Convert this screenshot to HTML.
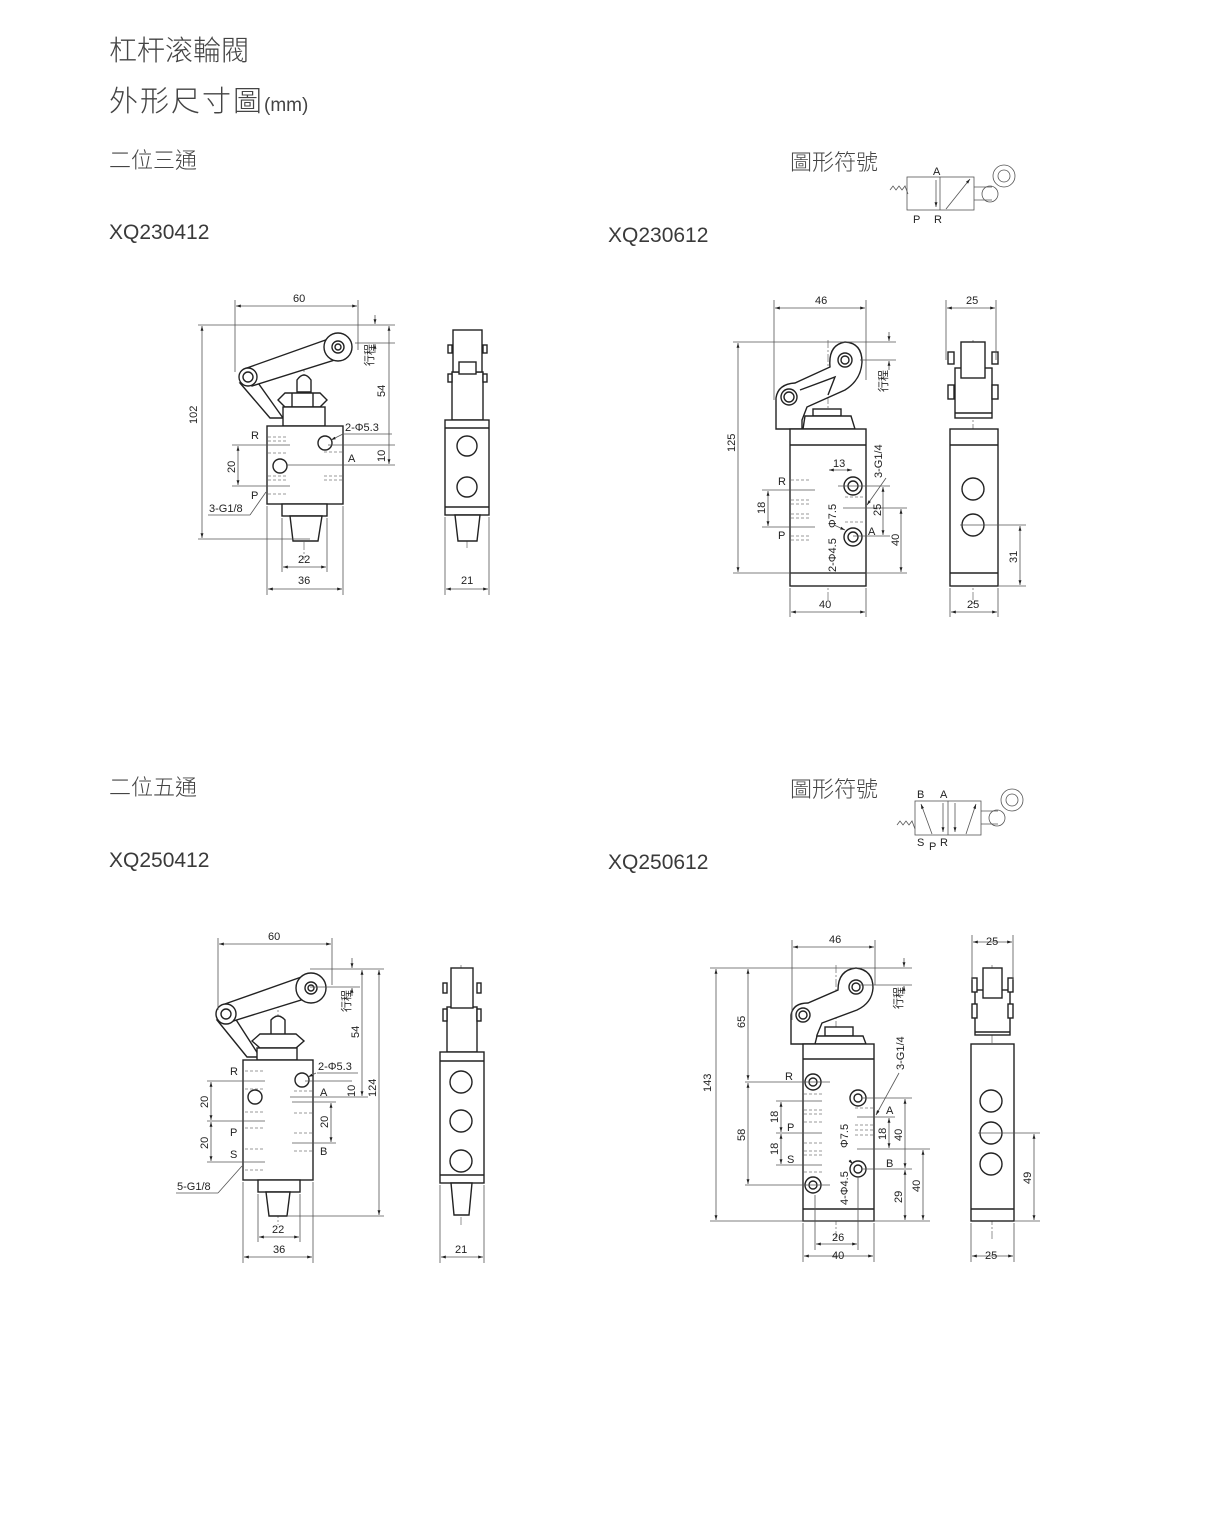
<!DOCTYPE html>
<html><head><meta charset="utf-8"><style>
html,body{margin:0;padding:0;background:#fff;}
svg{display:block;}
.t{font-family:"Liberation Sans","Noto Sans CJK TC",sans-serif;fill:#3a3a3a;}
.k{font-family:"Noto Sans CJK TC",sans-serif;fill:#444;font-weight:300;}
.o{fill:none;stroke:#222;stroke-width:1.4;}
.ow{fill:#fff;stroke:#222;stroke-width:1.4;}
.d{fill:none;stroke:#555;stroke-width:0.8;}
.c{fill:none;stroke:#666;stroke-width:0.7;stroke-dasharray:8 2 2 2;}
.h{fill:none;stroke:#777;stroke-width:0.7;stroke-dasharray:3 2;}
.n{font-family:"Liberation Sans",sans-serif;font-size:11px;fill:#222;}
</style></head><body>
<svg width="1211" height="1535" viewBox="0 0 1211 1535" xmlns="http://www.w3.org/2000/svg">
<defs>
<marker id="a" viewBox="0 0 10 10" refX="10" refY="5" markerWidth="6" markerHeight="6" orient="auto-start-reverse"><path d="M0,2 L10,5 L0,8z" fill="#222"/></marker>
</defs>

<!-- Titles -->
<text class="k" x="109" y="60" font-size="28">杠杆滚輪閥</text>
<text class="k" x="109" y="111" font-size="29" letter-spacing="2">外形尺寸圖<tspan font-size="19" letter-spacing="0" font-family="'Liberation Sans',sans-serif">(mm)</tspan></text>
<text class="k" x="109" y="168" font-size="22">二位三通</text>
<text class="t" x="109" y="239" font-size="21">XQ230412</text>
<text class="t" x="608" y="242" font-size="21">XQ230612</text>
<text class="k" x="790" y="170" font-size="22">圖形符號</text>
<text class="k" x="109" y="795" font-size="22">二位五通</text>
<text class="t" x="109" y="867" font-size="21">XQ250412</text>
<text class="t" x="608" y="869" font-size="21">XQ250612</text>
<text class="k" x="790" y="797" font-size="22">圖形符號</text>

<!-- Symbol 1 -->
<g>
<path class="d" d="M890,190 l3,-4 3,4 3,-4 3,4 3,-4 3,8"/>
<rect class="d" x="907" y="177" width="67" height="33"/>
<line class="d" x1="940" y1="177" x2="940" y2="210"/>
<line class="d" x1="936" y1="180" x2="936" y2="207" marker-end="url(#a)"/>
<line class="d" x1="946" y1="209" x2="970" y2="179" marker-end="url(#a)"/>
<line class="d" x1="974" y1="187" x2="992" y2="187"/><line class="d" x1="974" y1="200" x2="992" y2="200"/>
<circle class="d" cx="990" cy="194" r="8"/><circle class="d" cx="1004" cy="176" r="11"/><circle class="d" cx="1004" cy="176" r="6"/>
<text class="n" x="933" y="175" font-size="7">A</text><text class="n" x="913" y="223" font-size="7">P</text><text class="n" x="934" y="223" font-size="7">R</text>
</g>
<!-- Symbol 2 -->
<g>
<path class="d" d="M897,825 l3,-4 3,4 3,-4 3,4 3,-4 3,8"/>
<rect class="d" x="915" y="801" width="66" height="34"/>
<line class="d" x1="948" y1="801" x2="948" y2="835"/>
<line class="d" x1="932" y1="834" x2="921" y2="804" marker-end="url(#a)"/>
<line class="d" x1="943" y1="803" x2="943" y2="832" marker-end="url(#a)"/>
<line class="d" x1="955" y1="803" x2="955" y2="832" marker-end="url(#a)"/>
<line class="d" x1="966" y1="834" x2="976" y2="804" marker-end="url(#a)"/>
<line class="d" x1="981" y1="811" x2="998" y2="811"/><line class="d" x1="981" y1="824" x2="998" y2="824"/>
<circle class="d" cx="997" cy="818" r="8"/><circle class="d" cx="1012" cy="800" r="11"/><circle class="d" cx="1012" cy="800" r="6"/>
<text class="n" x="917" y="798" font-size="7">B</text><text class="n" x="940" y="798" font-size="7">A</text>
<text class="n" x="917" y="846" font-size="7">S</text><text class="n" x="929" y="850" font-size="7">P</text><text class="n" x="940" y="846" font-size="7">R</text>
</g>

<!-- ===== Drawing 1: XQ230412 ===== -->
<g>
<line class="c" x1="304" y1="360" x2="304" y2="560"/>
<path class="ow" d="M240,383 L270,418 L283,418 L256,380 Z"/>
<path class="ow" d="M244,369 L334,337 L341,358 L252,386 Z"/>
<circle class="ow" cx="338" cy="347" r="14"/><circle class="o" cx="338" cy="347" r="6"/><circle class="o" cx="338" cy="347" r="3"/>
<circle class="ow" cx="248" cy="377" r="9"/><circle class="o" cx="248" cy="377" r="5"/>
<path class="ow" d="M297,392 L297,380 Q304,370 311,380 L311,392 Z"/>
<path class="ow" d="M278,400 L285,393 L320,393 L327,400 L320,407 L285,407 Z"/>
<line class="o" x1="292" y1="393" x2="292" y2="407"/><line class="o" x1="313" y1="393" x2="313" y2="407"/>
<rect class="ow" x="283" y="407" width="42" height="19"/>
<rect class="ow" x="267" y="426" width="76" height="78"/>
<rect class="ow" x="282" y="504" width="45" height="12"/>
<path class="ow" d="M290,516 L322,516 L318,541 L293,541 Z"/>
<circle class="ow" cx="325" cy="443" r="7"/><circle class="ow" cx="280" cy="466" r="7"/>
<path class="h" d="M268,437h18M268,441h18M268,453h18M268,476h18M268,480h18M268,494h18M324,452h18M324,476h18M324,480h18"/>
<line class="d" x1="235" y1="300" x2="235" y2="372"/><line class="d" x1="358" y1="300" x2="358" y2="350"/>
<line class="d" x1="236" y1="306" x2="357" y2="306" marker-start="url(#a)" marker-end="url(#a)"/>
<text class="n" x="293" y="302">60</text>
<line class="d" x1="198" y1="325" x2="395" y2="325"/><line class="d" x1="198" y1="539" x2="310" y2="539"/>
<line class="d" x1="202" y1="326" x2="202" y2="538" marker-start="url(#a)" marker-end="url(#a)"/>
<text class="n" transform="translate(197,424) rotate(-90)">102</text>
<line class="d" x1="355" y1="343" x2="395" y2="343"/>
<line class="d" x1="375" y1="315" x2="375" y2="324" marker-end="url(#a)"/><line class="d" x1="375" y1="353" x2="375" y2="344" marker-end="url(#a)"/>
<text class="n" transform="translate(373,366) rotate(-90)" font-size="10" font-family="'Noto Sans CJK TC',sans-serif">行程</text>
<line class="d" x1="389" y1="326" x2="389" y2="464" marker-start="url(#a)" marker-end="url(#a)"/>
<text class="n" transform="translate(385,397) rotate(-90)">54</text>
<line class="d" x1="328" y1="445" x2="395" y2="445"/><line class="d" x1="286" y1="465" x2="395" y2="465"/>
<text class="n" transform="translate(385,462) rotate(-90)">10</text>
<text class="n" x="345" y="431">2-Φ5.3</text><line class="d" x1="344" y1="434" x2="392" y2="434"/>
<line class="d" x1="343" y1="434" x2="331" y2="440" marker-end="url(#a)"/>
<text class="n" x="348" y="462">A</text><text class="n" x="251" y="439">R</text><text class="n" x="251" y="499">P</text>
<line class="d" x1="232" y1="445" x2="290" y2="445"/><line class="d" x1="232" y1="486" x2="290" y2="486"/>
<line class="d" x1="238" y1="446" x2="238" y2="485" marker-start="url(#a)" marker-end="url(#a)"/>
<text class="n" transform="translate(235,473) rotate(-90)">20</text>
<text class="n" x="209" y="512">3-G1/8</text><line class="d" x1="208" y1="515" x2="250" y2="515"/><line class="d" x1="250" y1="515" x2="266" y2="492"/>
<line class="d" x1="267" y1="506" x2="267" y2="595"/><line class="d" x1="343" y1="506" x2="343" y2="595"/>
<line class="d" x1="282" y1="518" x2="282" y2="572"/><line class="d" x1="327" y1="518" x2="327" y2="572"/>
<line class="d" x1="283" y1="567" x2="326" y2="567" marker-start="url(#a)" marker-end="url(#a)"/><text class="n" x="298" y="563">22</text>
<line class="d" x1="268" y1="589" x2="342" y2="589" marker-start="url(#a)" marker-end="url(#a)"/><text class="n" x="298" y="584">36</text>
<line class="c" x1="467" y1="330" x2="467" y2="550"/>
<rect class="ow" x="452" y="372" width="31" height="48"/>
<rect class="ow" x="453" y="330" width="29" height="42"/>
<rect class="ow" x="459" y="362" width="17" height="12"/>
<rect class="ow" x="448" y="345" width="4" height="8"/><rect class="ow" x="483" y="345" width="4" height="8"/>
<rect class="ow" x="448" y="374" width="4" height="8"/><rect class="ow" x="483" y="374" width="4" height="8"/>
<rect class="ow" x="445" y="420" width="44" height="95"/><line class="o" x1="445" y1="428" x2="489" y2="428"/><line class="o" x1="445" y1="507" x2="489" y2="507"/>
<circle class="ow" cx="467" cy="446" r="10"/><circle class="ow" cx="467" cy="487" r="10"/>
<path class="ow" d="M455,515 L480,515 L477,541 L458,541 Z"/>
<line class="d" x1="445" y1="517" x2="445" y2="595"/><line class="d" x1="489" y1="517" x2="489" y2="595"/>
<line class="d" x1="446" y1="589" x2="488" y2="589" marker-start="url(#a)" marker-end="url(#a)"/><text class="n" x="461" y="584">21</text>
</g>

<!-- ===== Drawing 2: XQ230612 ===== -->
<g>
<line class="c" x1="828" y1="340" x2="828" y2="600"/>
<path class="ow" d="M776,429 L776,398 Q778,384 795,383 L830,367 Q828,345 845,342 Q862,343 862,362 Q861,380 845,390 L807,407 L802,420 L802,429 Z"/>
<path class="o" d="M800,390 L835,377 L828,395"/>
<circle class="o" cx="845" cy="360" r="7"/><circle class="o" cx="845" cy="360" r="4"/>
<circle class="o" cx="789" cy="397" r="8"/><circle class="o" cx="789" cy="397" r="5"/>
<rect class="ow" x="813" y="409" width="28" height="7"/>
<path class="ow" d="M803,429 L805,416 L851,416 L855,429 Z"/>
<rect class="ow" x="790" y="429" width="76" height="157"/>
<line class="o" x1="790" y1="445" x2="866" y2="445"/><line class="o" x1="790" y1="573" x2="866" y2="573"/>
<circle class="ow" cx="853" cy="486" r="9"/><circle class="o" cx="853" cy="486" r="5"/>
<circle class="ow" cx="853" cy="537" r="9"/><circle class="o" cx="853" cy="537" r="5"/>
<path class="h" d="M791,480h18M791,500h18M791,504h18M791,514h18M791,518h18M791,536h18M791,540h18M845,497h18M845,522h18"/>
<line class="d" x1="774" y1="300" x2="774" y2="400"/><line class="d" x1="866" y1="300" x2="866" y2="380"/>
<line class="d" x1="775" y1="308" x2="865" y2="308" marker-start="url(#a)" marker-end="url(#a)"/><text class="n" x="815" y="304">46</text>
<line class="d" x1="733" y1="342" x2="896" y2="342"/><line class="d" x1="733" y1="573" x2="907" y2="573"/>
<line class="d" x1="738" y1="343" x2="738" y2="572" marker-start="url(#a)" marker-end="url(#a)"/>
<text class="n" transform="translate(735,452) rotate(-90)">125</text>
<line class="d" x1="860" y1="360" x2="896" y2="360"/>
<line class="d" x1="889" y1="332" x2="889" y2="341" marker-end="url(#a)"/><line class="d" x1="889" y1="370" x2="889" y2="361" marker-end="url(#a)"/>
<text class="n" transform="translate(887,392) rotate(-90)" font-size="10" font-family="'Noto Sans CJK TC',sans-serif">行程</text>
<text class="n" transform="translate(882,478) rotate(-90)">3-G1/4</text>
<line class="d" x1="886" y1="478" x2="867" y2="505" marker-end="url(#a)"/>
<text class="n" x="833" y="467">13</text><line class="d" x1="829" y1="470" x2="852" y2="470" marker-start="url(#a)" marker-end="url(#a)"/>
<line class="d" x1="838" y1="486" x2="890" y2="486"/><line class="d" x1="843" y1="508" x2="907" y2="508"/><line class="d" x1="853" y1="536" x2="890" y2="536"/>
<line class="d" x1="883" y1="487" x2="883" y2="535" marker-start="url(#a)" marker-end="url(#a)"/><text class="n" transform="translate(881,516) rotate(-90)">25</text>
<line class="d" x1="901" y1="509" x2="901" y2="572" marker-start="url(#a)" marker-end="url(#a)"/><text class="n" transform="translate(899,546) rotate(-90)">40</text>
<text class="n" x="868" y="535">A</text>
<text class="n" transform="translate(836,528) rotate(-90)">Φ7.5</text>
<text class="n" transform="translate(836,572) rotate(-90)">2-Φ4.5</text>
<line class="d" x1="834" y1="525" x2="845" y2="530" marker-end="url(#a)"/>
<text class="n" x="778" y="485">R</text><text class="n" x="778" y="539">P</text>
<line class="d" x1="762" y1="490" x2="815" y2="490"/><line class="d" x1="762" y1="527" x2="815" y2="527"/>
<line class="d" x1="768" y1="491" x2="768" y2="526" marker-start="url(#a)" marker-end="url(#a)"/><text class="n" transform="translate(765,514) rotate(-90)">18</text>
<line class="d" x1="790" y1="588" x2="790" y2="617"/><line class="d" x1="866" y1="588" x2="866" y2="617"/>
<line class="d" x1="791" y1="612" x2="865" y2="612" marker-start="url(#a)" marker-end="url(#a)"/><text class="n" x="819" y="608">40</text>
<line class="c" x1="973" y1="340" x2="973" y2="605"/>
<rect class="ow" x="955" y="368" width="37" height="50"/>
<rect class="ow" x="961" y="342" width="24" height="36"/>
<rect class="ow" x="948" y="352" width="6" height="12"/><rect class="ow" x="992" y="352" width="6" height="12"/>
<rect class="ow" x="948" y="385" width="6" height="14"/><rect class="ow" x="992" y="385" width="6" height="14"/>
<line class="o" x1="955" y1="413" x2="992" y2="413"/>
<rect class="ow" x="950" y="429" width="48" height="157"/>
<line class="o" x1="950" y1="445" x2="998" y2="445"/><line class="o" x1="950" y1="573" x2="998" y2="573"/>
<circle class="ow" cx="973" cy="489" r="11"/><circle class="ow" cx="973" cy="525" r="11"/>
<line class="d" x1="946" y1="300" x2="946" y2="360"/><line class="d" x1="996" y1="300" x2="996" y2="360"/>
<line class="d" x1="947" y1="308" x2="995" y2="308" marker-start="url(#a)" marker-end="url(#a)"/><text class="n" x="966" y="304">25</text>
<line class="d" x1="950" y1="588" x2="950" y2="617"/><line class="d" x1="998" y1="588" x2="998" y2="617"/>
<line class="d" x1="951" y1="612" x2="997" y2="612" marker-start="url(#a)" marker-end="url(#a)"/><text class="n" x="967" y="608">25</text>
<line class="d" x1="960" y1="525" x2="1026" y2="525"/><line class="d" x1="998" y1="586" x2="1026" y2="586"/>
<line class="d" x1="1020" y1="526" x2="1020" y2="585" marker-start="url(#a)" marker-end="url(#a)"/><text class="n" transform="translate(1017,563) rotate(-90)">31</text>
</g>

<!-- ===== Drawing 3: XQ250412 ===== -->
<g>
<line class="c" x1="278" y1="1000" x2="278" y2="1225"/>
<path class="ow" d="M217,1020 L247,1057 L260,1057 L233,1015 Z"/>
<path class="ow" d="M222,1005 L307,975 L314,996 L230,1022 Z"/>
<circle class="ow" cx="311" cy="988" r="15"/><circle class="o" cx="311" cy="988" r="6"/><circle class="o" cx="311" cy="988" r="3"/>
<circle class="ow" cx="226" cy="1014" r="10"/><circle class="o" cx="226" cy="1014" r="5"/>
<path class="ow" d="M271,1035 L271,1020 Q278,1012 285,1020 L285,1035 Z"/>
<path class="ow" d="M252,1041 L260,1034 L296,1034 L304,1041 L296,1048 L260,1048 Z"/>
<rect class="ow" x="257" y="1048" width="40" height="12"/>
<rect class="ow" x="243" y="1060" width="70" height="120"/>
<rect class="ow" x="258" y="1180" width="42" height="12"/>
<path class="ow" d="M266,1192 L290,1192 L287,1216 L269,1216 Z"/>
<circle class="ow" cx="302" cy="1080" r="7"/><circle class="ow" cx="255" cy="1097" r="7"/>
<path class="h" d="M245,1071h18M245,1089h18M245,1112h18M245,1128h18M245,1149h18M245,1170h18M294,1091h18M294,1113h18M294,1133h18M294,1151h18"/>
<line class="d" x1="218" y1="938" x2="218" y2="1010"/><line class="d" x1="332" y1="938" x2="332" y2="985"/>
<line class="d" x1="219" y1="944" x2="331" y2="944" marker-start="url(#a)" marker-end="url(#a)"/><text class="n" x="268" y="940">60</text>
<line class="d" x1="310" y1="969" x2="384" y2="969"/><line class="d" x1="310" y1="987" x2="360" y2="987"/>
<line class="d" x1="352" y1="958" x2="352" y2="968" marker-end="url(#a)"/><line class="d" x1="352" y1="996" x2="352" y2="988" marker-end="url(#a)"/>
<text class="n" transform="translate(350,1012) rotate(-90)" font-size="10" font-family="'Noto Sans CJK TC',sans-serif">行程</text>
<line class="d" x1="362" y1="970" x2="362" y2="1096" marker-start="url(#a)" marker-end="url(#a)"/><text class="n" transform="translate(359,1038) rotate(-90)">54</text>
<line class="d" x1="379" y1="970" x2="379" y2="1215" marker-start="url(#a)" marker-end="url(#a)"/><text class="n" transform="translate(376,1097) rotate(-90)">124</text>
<line class="d" x1="288" y1="1216" x2="384" y2="1216"/>
<line class="d" x1="305" y1="1081" x2="352" y2="1081"/><line class="d" x1="290" y1="1097" x2="368" y2="1097"/>
<text class="n" transform="translate(355,1097) rotate(-90)">10</text>
<text class="n" x="318" y="1070">2-Φ5.3</text><line class="d" x1="317" y1="1073" x2="358" y2="1073"/>
<line class="d" x1="316" y1="1073" x2="308" y2="1077" marker-end="url(#a)"/>
<text class="n" x="320" y="1096">A</text><text class="n" x="320" y="1155">B</text>
<line class="d" x1="292" y1="1102" x2="336" y2="1102"/><line class="d" x1="292" y1="1143" x2="336" y2="1143"/>
<line class="d" x1="331" y1="1103" x2="331" y2="1142" marker-start="url(#a)" marker-end="url(#a)"/><text class="n" transform="translate(328,1128) rotate(-90)">20</text>
<text class="n" x="230" y="1075">R</text><text class="n" x="230" y="1136">P</text><text class="n" x="230" y="1158">S</text>
<line class="d" x1="207" y1="1081" x2="265" y2="1081"/><line class="d" x1="207" y1="1121" x2="265" y2="1121"/><line class="d" x1="207" y1="1162" x2="265" y2="1162"/>
<line class="d" x1="211" y1="1082" x2="211" y2="1120" marker-start="url(#a)" marker-end="url(#a)"/><text class="n" transform="translate(208,1108) rotate(-90)">20</text>
<line class="d" x1="211" y1="1122" x2="211" y2="1161" marker-start="url(#a)" marker-end="url(#a)"/><text class="n" transform="translate(208,1149) rotate(-90)">20</text>
<text class="n" x="177" y="1190">5-G1/8</text><line class="d" x1="176" y1="1193" x2="218" y2="1193"/><line class="d" x1="218" y1="1193" x2="242" y2="1166"/>
<line class="d" x1="243" y1="1182" x2="243" y2="1263"/><line class="d" x1="313" y1="1182" x2="313" y2="1263"/>
<line class="d" x1="258" y1="1194" x2="258" y2="1242"/><line class="d" x1="300" y1="1194" x2="300" y2="1242"/>
<line class="d" x1="259" y1="1237" x2="299" y2="1237" marker-start="url(#a)" marker-end="url(#a)"/><text class="n" x="272" y="1233">22</text>
<line class="d" x1="244" y1="1257" x2="312" y2="1257" marker-start="url(#a)" marker-end="url(#a)"/><text class="n" x="273" y="1253">36</text>
<line class="c" x1="461" y1="965" x2="461" y2="1225"/>
<rect class="ow" x="447" y="1007" width="30" height="45"/>
<rect class="ow" x="451" y="968" width="22" height="40"/>
<rect class="ow" x="443" y="983" width="4" height="10"/><rect class="ow" x="477" y="983" width="4" height="10"/>
<rect class="ow" x="443" y="1009" width="4" height="12"/><rect class="ow" x="477" y="1009" width="4" height="12"/>
<rect class="ow" x="440" y="1052" width="44" height="131"/>
<line class="o" x1="440" y1="1061" x2="484" y2="1061"/><line class="o" x1="440" y1="1175" x2="484" y2="1175"/>
<circle class="ow" cx="461" cy="1082" r="11"/><circle class="ow" cx="461" cy="1121" r="11"/><circle class="ow" cx="461" cy="1161" r="11"/>
<path class="ow" d="M451,1183 L472,1183 L469,1215 L454,1215 Z"/>
<line class="d" x1="440" y1="1185" x2="440" y2="1263"/><line class="d" x1="484" y1="1185" x2="484" y2="1263"/>
<line class="d" x1="441" y1="1257" x2="483" y2="1257" marker-start="url(#a)" marker-end="url(#a)"/><text class="n" x="455" y="1253">21</text>
</g>

<!-- ===== Drawing 4: XQ250612 ===== -->
<g>
<line class="c" x1="836" y1="965" x2="836" y2="1240"/>
<path class="ow" d="M791,1044 L791,1015 Q793,1003 808,1003 L838,990 Q838,970 856,968 Q873,970 873,988 Q872,1003 857,1010 L822,1023 L817,1035 L816,1044 Z"/>
<circle class="o" cx="856" cy="987" r="7"/><circle class="o" cx="856" cy="987" r="4"/>
<circle class="o" cx="803" cy="1015" r="7"/><circle class="o" cx="803" cy="1015" r="4"/>
<rect class="ow" x="825" y="1027" width="28" height="9"/>
<path class="ow" d="M815,1044 L817,1036 L863,1036 L866,1044 Z"/>
<rect class="ow" x="803" y="1044" width="71" height="177"/>
<line class="o" x1="803" y1="1059" x2="874" y2="1059"/><line class="o" x1="803" y1="1209" x2="874" y2="1209"/>
<circle class="ow" cx="813" cy="1082" r="8"/><circle class="o" cx="813" cy="1082" r="4"/>
<circle class="ow" cx="858" cy="1098" r="8"/><circle class="o" cx="858" cy="1098" r="4"/>
<circle class="ow" cx="858" cy="1169" r="8"/><circle class="o" cx="858" cy="1169" r="4"/>
<circle class="ow" cx="813" cy="1185" r="8"/><circle class="o" cx="813" cy="1185" r="4"/>
<path class="h" d="M804,1094h18M804,1110h18M804,1114h18M804,1122h18M804,1143h18M804,1151h18M804,1155h18M804,1172h18M855,1108h18M855,1125h18M855,1130h18M855,1135h18"/>
<line class="d" x1="792" y1="940" x2="792" y2="1020"/><line class="d" x1="875" y1="940" x2="875" y2="985"/>
<line class="d" x1="793" y1="947" x2="874" y2="947" marker-start="url(#a)" marker-end="url(#a)"/><text class="n" x="829" y="943">46</text>
<line class="d" x1="710" y1="968" x2="912" y2="968"/><line class="d" x1="710" y1="1221" x2="930" y2="1221"/>
<line class="d" x1="716" y1="969" x2="716" y2="1220" marker-start="url(#a)" marker-end="url(#a)"/><text class="n" transform="translate(711,1092) rotate(-90)">143</text>
<line class="d" x1="748" y1="969" x2="748" y2="1080" marker-start="url(#a)" marker-end="url(#a)"/><text class="n" transform="translate(745,1028) rotate(-90)">65</text>
<line class="d" x1="745" y1="1082" x2="830" y2="1082"/><line class="d" x1="745" y1="1185" x2="830" y2="1185"/>
<line class="d" x1="748" y1="1083" x2="748" y2="1184" marker-start="url(#a)" marker-end="url(#a)"/><text class="n" transform="translate(745,1141) rotate(-90)">58</text>
<line class="d" x1="859" y1="985" x2="912" y2="985"/>
<line class="d" x1="904" y1="958" x2="904" y2="967" marker-end="url(#a)"/><line class="d" x1="904" y1="994" x2="904" y2="986" marker-end="url(#a)"/>
<text class="n" transform="translate(902,1009) rotate(-90)" font-size="10" font-family="'Noto Sans CJK TC',sans-serif">行程</text>
<text class="n" transform="translate(904,1070) rotate(-90)">3-G1/4</text>
<line class="d" x1="899" y1="1073" x2="876" y2="1115" marker-end="url(#a)"/>
<text class="n" x="785" y="1080">R</text><text class="n" x="787" y="1131">P</text><text class="n" x="787" y="1163">S</text>
<text class="n" x="886" y="1114">A</text><text class="n" x="886" y="1167">B</text>
<line class="d" x1="776" y1="1101" x2="822" y2="1101"/><line class="d" x1="776" y1="1133" x2="822" y2="1133"/><line class="d" x1="776" y1="1165" x2="822" y2="1165"/>
<line class="d" x1="781" y1="1102" x2="781" y2="1132" marker-start="url(#a)" marker-end="url(#a)"/><text class="n" transform="translate(778,1123) rotate(-90)">18</text>
<line class="d" x1="781" y1="1134" x2="781" y2="1164" marker-start="url(#a)" marker-end="url(#a)"/><text class="n" transform="translate(778,1155) rotate(-90)">18</text>
<line class="d" x1="862" y1="1098" x2="912" y2="1098"/><line class="d" x1="857" y1="1117" x2="895" y2="1117"/><line class="d" x1="857" y1="1149" x2="930" y2="1149"/><line class="d" x1="862" y1="1169" x2="912" y2="1169"/>
<line class="d" x1="889" y1="1118" x2="889" y2="1148" marker-start="url(#a)" marker-end="url(#a)"/><text class="n" transform="translate(886,1140) rotate(-90)">18</text>
<line class="d" x1="905" y1="1099" x2="905" y2="1168" marker-start="url(#a)" marker-end="url(#a)"/><text class="n" transform="translate(902,1141) rotate(-90)">40</text>
<line class="d" x1="905" y1="1170" x2="905" y2="1220" marker-start="url(#a)" marker-end="url(#a)"/><text class="n" transform="translate(902,1203) rotate(-90)">29</text>
<line class="d" x1="923" y1="1150" x2="923" y2="1220" marker-start="url(#a)" marker-end="url(#a)"/><text class="n" transform="translate(920,1192) rotate(-90)">40</text>
<text class="n" transform="translate(848,1148) rotate(-90)">Φ7.5</text>
<text class="n" transform="translate(848,1205) rotate(-90)">4-Φ4.5</text>
<line class="d" x1="849" y1="1160" x2="853" y2="1164" marker-end="url(#a)"/>
<line class="d" x1="803" y1="1223" x2="803" y2="1262"/><line class="d" x1="874" y1="1223" x2="874" y2="1262"/>
<line class="d" x1="815" y1="1195" x2="815" y2="1250"/><line class="d" x1="858" y1="1178" x2="858" y2="1250"/>
<line class="d" x1="816" y1="1244" x2="857" y2="1244" marker-start="url(#a)" marker-end="url(#a)"/><text class="n" x="832" y="1241">26</text>
<line class="d" x1="804" y1="1256" x2="873" y2="1256" marker-start="url(#a)" marker-end="url(#a)"/><text class="n" x="832" y="1259">40</text>
<line class="c" x1="992" y1="965" x2="992" y2="1240"/>
<rect class="ow" x="975" y="990" width="35" height="45"/>
<rect class="ow" x="983" y="968" width="19" height="30"/>
<rect class="ow" x="972" y="978" width="5" height="14"/><rect class="ow" x="1008" y="978" width="5" height="14"/>
<rect class="ow" x="972" y="1004" width="5" height="14"/><rect class="ow" x="1008" y="1004" width="5" height="14"/>
<line class="o" x1="975" y1="1032" x2="1010" y2="1032"/>
<rect class="ow" x="971" y="1044" width="43" height="177"/>
<line class="o" x1="971" y1="1209" x2="1014" y2="1209"/>
<circle class="ow" cx="991" cy="1101" r="11"/><circle class="ow" cx="991" cy="1133" r="11"/><circle class="ow" cx="991" cy="1164" r="11"/>
<line class="d" x1="972" y1="935" x2="972" y2="980"/><line class="d" x1="1013" y1="935" x2="1013" y2="980"/>
<line class="d" x1="973" y1="942" x2="1012" y2="942" marker-start="url(#a)" marker-end="url(#a)"/><text class="n" x="986" y="945">25</text>
<line class="d" x1="971" y1="1223" x2="971" y2="1262"/><line class="d" x1="1014" y1="1223" x2="1014" y2="1262"/>
<line class="d" x1="972" y1="1256" x2="1013" y2="1256" marker-start="url(#a)" marker-end="url(#a)"/><text class="n" x="985" y="1259">25</text>
<line class="d" x1="978" y1="1133" x2="1040" y2="1133"/><line class="d" x1="1014" y1="1221" x2="1040" y2="1221"/>
<line class="d" x1="1034" y1="1134" x2="1034" y2="1220" marker-start="url(#a)" marker-end="url(#a)"/><text class="n" transform="translate(1031,1184) rotate(-90)">49</text>
</g>
</svg>
</body></html>
